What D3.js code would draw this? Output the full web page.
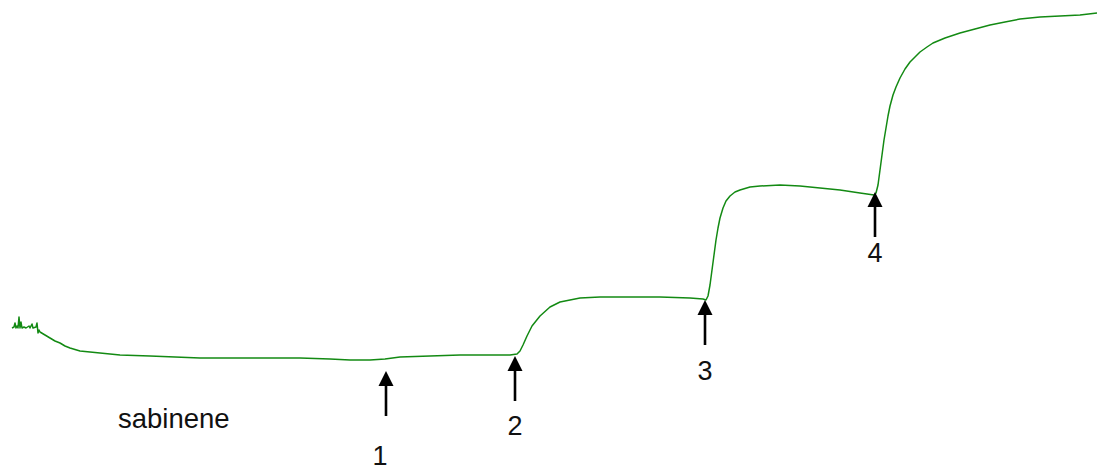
<!DOCTYPE html>
<html>
<head>
<meta charset="utf-8">
<script src="https://cdn.jsdelivr.net/npm/d3@7"></script>
<style>
  body { margin: 0; background: #fff; }
  text { font-family: "Liberation Sans", Arial, sans-serif; }
</style>
</head>
<body>
<div id="my_dataviz"></div>
<script>
// trace: time (t) and signal (v)
var times = [0,2,3,4,5,6,7,8,9,10,12,14,17,18,20,21,24,25,26,27,28,33,38,43,48,53,58,68,88,108,138,188,238,288,318,338,358,373,388,418,448,478,498,505,508,511,515,520,528,538,548,558,568,588,618,648,678,691,694,696,698,700,702,704,706,708,711,714,718,723,728,738,748,768,788,808,828,848,862,864,866,868,870,872,874,876,878,881,884,888,893,898,903,908,915,921,933,948,963,978,993,1008,1028,1048,1068,1085];
var signal = [37,38,42,37,39,37,48,37,43,37,38,37,39,37,41,37,38,42,32,35,33,30,27,24,22,19,17,14,12,10,9,7,7,7,6,5,5,6,8,9,10,10,10,11,14,20,29,39,49,58,63,65,67,68,68,68,67,66,65,69,80,95,110,125,137,147,157,164,169,173,175,178,179,180,179,177,175,172,170,172,180,195,210,225,237,249,259,270,278,287,296,303,308,313,318,322,327,332,336,340,343,346,348,349,350,352];

// additions (arrows)
var addLabels = ["1", "2", "3", "4"];
var addTimes = [374, 503, 693, 863];
var addSignal = [-6, 9, 65, 173];
var labelGap = [94, 79, 80, 70];   // tip to label baseline
var labelShift = [-6, 0, 0, 0];

var compound = "sabinene";

var width = 1102, height = 468;

var svg = d3.select("#my_dataviz")
  .append("svg")
    .attr("width", width)
    .attr("height", height);

var x = d3.scaleLinear().domain([0, 1085]).range([12, 1097]);
var y = d3.scaleLinear().domain([0, 352]).range([365, 13]);

var data = times.map(function(t, i) { return {t: t, v: signal[i]}; });

var line = d3.line()
  .x(function(d) { return x(d.t); })
  .y(function(d) { return y(d.v); });

svg.append("path")
  .datum(data)
  .attr("fill", "none")
  .attr("stroke", "#138a13")
  .attr("stroke-width", 1.5)
  .attr("stroke-linejoin", "round")
  .attr("d", line);

// arrows
var arrows = svg.append("g")
  .selectAll("g")
  .data(addLabels)
  .enter()
  .append("g")
    .attr("transform", function(d, i) { return "translate(" + x(addTimes[i]) + "," + y(addSignal[i]) + ")"; });

arrows.append("path")
  .attr("d", "M0,0 L-7.5,15 L7.5,15 Z")
  .attr("fill", "#000");

arrows.append("line")
  .attr("x1", 0).attr("x2", 0)
  .attr("y1", 14).attr("y2", 45)
  .attr("stroke", "#000")
  .attr("stroke-width", 2.6);

arrows.append("text")
  .attr("x", function(d, i) { return labelShift[i]; })
  .attr("y", function(d, i) { return labelGap[i]; })
  .attr("text-anchor", "middle")
  .style("font-size", "27px")
  .attr("fill", "#111")
  .text(function(d) { return d; });

svg.append("text")
  .attr("x", 118)
  .attr("y", 428)
  .style("font-size", "27.5px")
  .attr("fill", "#111")
  .text(compound);
</script>
</body>
</html>
